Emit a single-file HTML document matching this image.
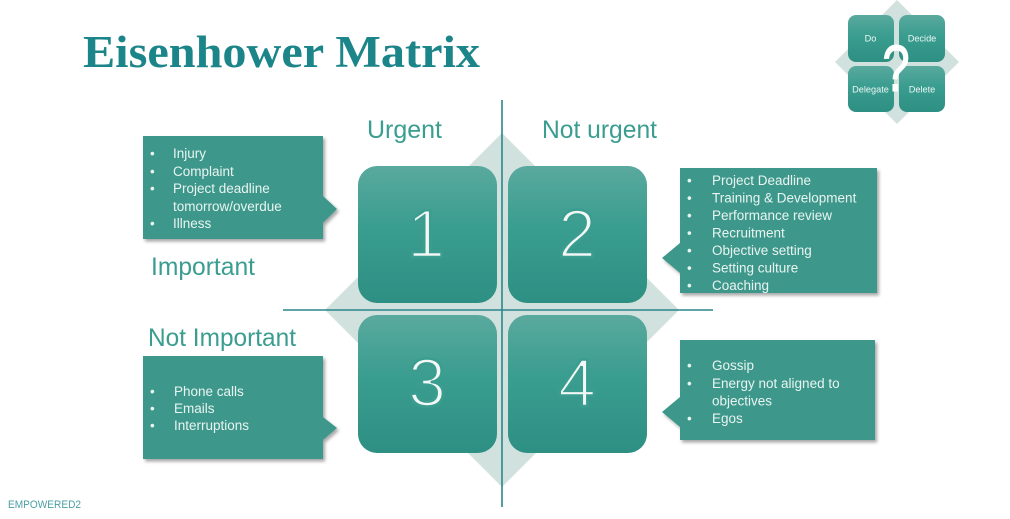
<!DOCTYPE html>
<html>
<head>
<meta charset="utf-8">
<style>
  html, body { margin:0; padding:0; background:#ffffff; }
  body { width:1010px; height:519px; overflow:hidden; }
  svg { display:block; }
  .lab { font-family:"Liberation Sans", sans-serif; fill:#3a9d90; }
  .it { font-family:"Liberation Sans", sans-serif; font-size:13.5px; fill:#e9f4f1; }
  .num { font-family:"Liberation Sans", sans-serif; font-size:68px; fill:#f3f8f6; text-anchor:middle; stroke:#3b9d8f; stroke-width:2.6; }
  .ic { font-family:"Liberation Sans", sans-serif; font-size:9.2px; fill:#eef6f4; text-anchor:middle; }
</style>
</head>
<body>
<svg width="1010" height="519" viewBox="0 0 1010 519" xmlns="http://www.w3.org/2000/svg">
  <defs>
    <linearGradient id="bg" x1="0" y1="0" x2="0" y2="1">
      <stop offset="0" stop-color="#5aa99e"/>
      <stop offset="0.45" stop-color="#399d8f"/>
      <stop offset="1" stop-color="#2e8f83"/>
    </linearGradient>
    <filter id="sh" x="-10%" y="-10%" width="130%" height="130%">
      <feDropShadow dx="2" dy="2.5" stdDeviation="1.5" flood-color="#000" flood-opacity="0.35"/>
    </filter>
  </defs>

  <!-- Title -->
  <text x="83" y="67" font-family="'Liberation Serif', serif" font-weight="bold" font-size="45" fill="#1b8589" textLength="397" lengthAdjust="spacingAndGlyphs">Eisenhower Matrix</text>

  <!-- Top-right icon -->
  <polygon points="897,0 959,62 897,124 835,62" fill="#d1e2de"/>
  <rect x="848" y="15" width="46" height="47" rx="8" fill="url(#bg)"/>
  <rect x="899" y="15" width="46" height="47" rx="8" fill="url(#bg)"/>
  <rect x="848" y="66" width="46" height="46" rx="8" fill="url(#bg)"/>
  <rect x="899" y="66" width="46" height="46" rx="8" fill="url(#bg)"/>
  <text class="ic" x="870.5" y="41.5">Do</text>
  <text class="ic" x="922" y="41.5">Decide</text>
  <text class="ic" x="870.5" y="92.5">Delegate</text>
  <text class="ic" x="922" y="92.5">Delete</text>
  <text x="896" y="91" font-family="'Liberation Sans', sans-serif" font-size="66" fill="#ffffff" stroke="#ffffff" stroke-width="1" text-anchor="middle" transform="translate(896,0) scale(0.75,1) translate(-896,0)">?</text>

  <!-- Big diamond -->
  <polygon points="502,133 679,310 502,487 325,310" fill="#d1e2de"/>

  <!-- Quadrant boxes -->
  <rect x="358" y="166" width="139" height="137" rx="19" fill="url(#bg)"/>
  <rect x="508" y="166" width="139" height="137" rx="19" fill="url(#bg)"/>
  <rect x="358" y="315" width="139" height="138" rx="19" fill="url(#bg)"/>
  <rect x="508" y="315" width="139" height="138" rx="19" fill="url(#bg)"/>
  <text class="num" x="426" y="257">1</text>
  <text class="num" x="577" y="257">2</text>
  <text class="num" x="427" y="406">3</text>
  <text class="num" x="577" y="406">4</text>

  <!-- Axes -->
  <line x1="502" y1="100" x2="502" y2="507" stroke="#2a858c" stroke-width="1.6"/>
  <line x1="283" y1="310" x2="713" y2="310" stroke="#2a858c" stroke-width="1.6"/>

  <!-- Axis labels -->
  <text class="lab" x="367" y="138" font-size="25" textLength="75" lengthAdjust="spacingAndGlyphs">Urgent</text>
  <text class="lab" x="542" y="138" font-size="25" textLength="115" lengthAdjust="spacingAndGlyphs">Not urgent</text>
  <text class="lab" x="151" y="275" font-size="25" textLength="104" lengthAdjust="spacingAndGlyphs">Important</text>
  <text class="lab" x="148" y="346" font-size="25" textLength="148" lengthAdjust="spacingAndGlyphs">Not Important</text>

  <!-- Callout 1 -->
  <polygon points="143,136 323,136 323,196 337,209 323,223 323,239 143,239" fill="#3e988b" filter="url(#sh)"/>
  <g class="it">
    <text x="150" y="158">•</text><text x="173" y="158">Injury</text>
    <text x="150" y="176">•</text><text x="173" y="176">Complaint</text>
    <text x="150" y="193">•</text><text x="173" y="193">Project deadline</text>
    <text x="173" y="211">tomorrow/overdue</text>
    <text x="150" y="228">•</text><text x="173" y="228">Illness</text>
  </g>

  <!-- Callout 2 -->
  <polygon points="680,168 877,168 877,293 680,293 680,273 662,258 680,243" fill="#3e988b" filter="url(#sh)"/>
  <g class="it">
    <text x="687" y="185">•</text><text x="712" y="185">Project Deadline</text>
    <text x="687" y="202.5">•</text><text x="712" y="202.5">Training &amp; Development</text>
    <text x="687" y="220">•</text><text x="712" y="220">Performance review</text>
    <text x="687" y="237.5">•</text><text x="712" y="237.5">Recruitment</text>
    <text x="687" y="255">•</text><text x="712" y="255">Objective setting</text>
    <text x="687" y="272.5">•</text><text x="712" y="272.5">Setting culture</text>
    <text x="687" y="290">•</text><text x="712" y="290">Coaching</text>
  </g>

  <!-- Callout 3 -->
  <polygon points="143,356 323,356 323,417 337,428 323,440 323,459 143,459" fill="#3e988b" filter="url(#sh)"/>
  <g class="it">
    <text x="150" y="396">•</text><text x="174" y="396">Phone calls</text>
    <text x="150" y="413">•</text><text x="174" y="413">Emails</text>
    <text x="150" y="430">•</text><text x="174" y="430">Interruptions</text>
  </g>

  <!-- Callout 4 -->
  <polygon points="680,340 875,340 875,440 680,440 680,427 662,412 680,397" fill="#3e988b" filter="url(#sh)"/>
  <g class="it">
    <text x="687" y="370">•</text><text x="712" y="370">Gossip</text>
    <text x="687" y="388">•</text><text x="712" y="388">Energy not aligned to</text>
    <text x="712" y="405.5">objectives</text>
    <text x="687" y="423">•</text><text x="712" y="423">Egos</text>
  </g>

  <!-- Footer -->
  <text x="8" y="508" font-family="'Liberation Sans', sans-serif" font-size="11" fill="#4a9fa3" textLength="73" lengthAdjust="spacingAndGlyphs">EMPOWERED2</text>
</svg>
</body>
</html>
